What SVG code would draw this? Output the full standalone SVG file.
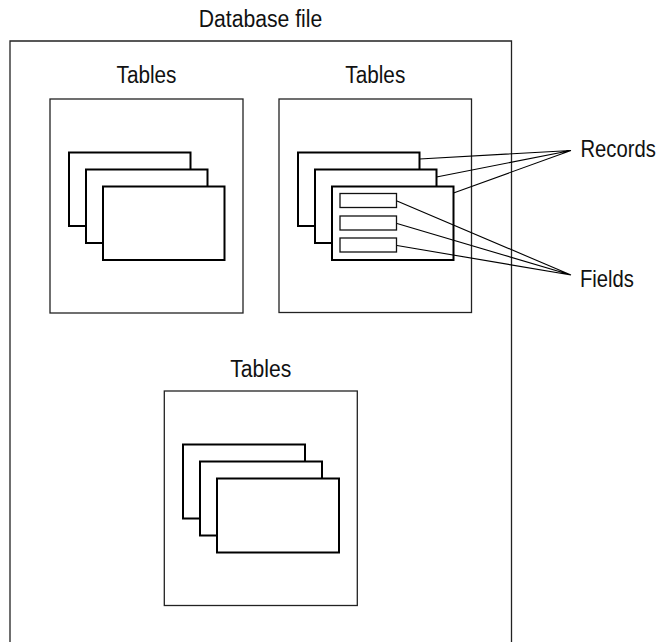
<svg xmlns="http://www.w3.org/2000/svg" width="660" height="642" viewBox="0 0 660 642">
<style>
text{font-family:"Liberation Sans",Arial,sans-serif;font-size:23px;fill:#111}
.frame{fill:none;stroke:#222;stroke-width:1.3}
.card{fill:#fff;stroke:#000;stroke-width:2}
.field{fill:#fff;stroke:#111;stroke-width:1.3}
.conn{fill:none;stroke:#000;stroke-width:1.1}
</style>
<rect width="660" height="642" fill="#fff"/>
<g id="database">
<path class="frame" d="M10,642 V41 H511.5 V642"/>
<text x="260.5" y="27.3" text-anchor="middle" textLength="123.6" lengthAdjust="spacingAndGlyphs">Database file</text>
</g>
<g id="tables1">
<text x="146.5" y="83.3" text-anchor="middle" textLength="60" lengthAdjust="spacingAndGlyphs">Tables</text>
<rect class="frame" x="50" y="99" width="193" height="214"/>
<rect class="card" x="69" y="152.5" width="121.5" height="73.5"/>
<rect class="card" x="86" y="169.5" width="121.5" height="73.5"/>
<rect class="card" x="103" y="186.5" width="121.5" height="73.5"/>
</g>
<g id="tables2">
<text x="375.3" y="83.3" text-anchor="middle" textLength="60" lengthAdjust="spacingAndGlyphs">Tables</text>
<rect class="frame" x="279" y="99" width="192.5" height="213.5"/>
<rect class="card" x="298" y="152.5" width="121.5" height="73.5"/>
<rect class="card" x="315" y="169.5" width="121.5" height="73.5"/>
<rect class="card" x="332" y="186.5" width="121.5" height="73.5"/>
<rect class="field" x="340" y="193.5" width="56.5" height="14"/>
<rect class="field" x="340" y="216" width="56.5" height="14"/>
<rect class="field" x="340" y="238" width="56.5" height="14"/>
</g>
<g id="tables3">
<text x="260.8" y="377.3" text-anchor="middle" textLength="61" lengthAdjust="spacingAndGlyphs">Tables</text>
<rect class="frame" x="164.3" y="391" width="193" height="214.5"/>
<rect class="card" x="183" y="444.5" width="122" height="74"/>
<rect class="card" x="200" y="461.5" width="122" height="74"/>
<rect class="card" x="217" y="478.5" width="122" height="74"/>
</g>
<g id="records">
<text transform="translate(580.5,156.7) scale(0.88,1)">Records</text>
</g>
<g id="fields">
<text transform="translate(580,286.5) scale(0.88,1)">Fields</text>
</g>
<g id="connectors">
<path class="conn" d="M419.5,159 L571,150.5 M436.5,177 L571,150.5 M453.5,193 L571,150.5"/>
<path class="conn" d="M397,201 L571,275 M397,223.5 L571,275 M397,245.5 L571,275"/>
</g>
</svg>
